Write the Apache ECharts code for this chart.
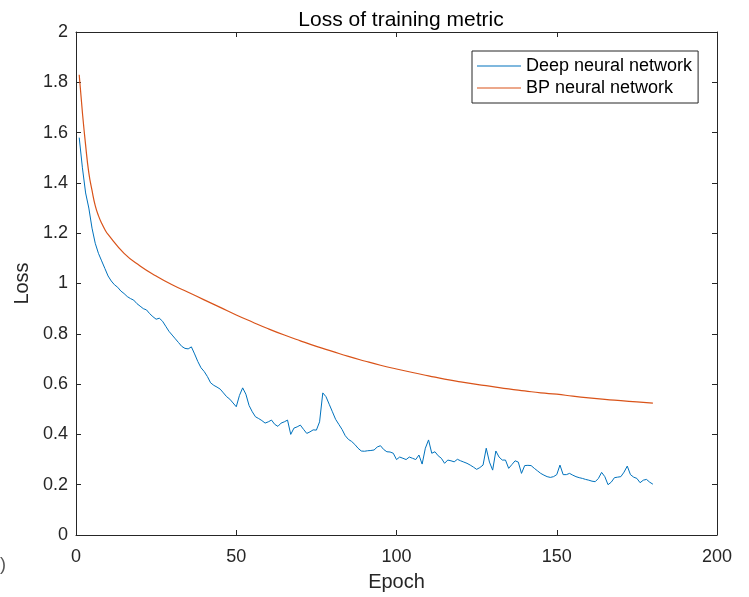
<!DOCTYPE html>
<html>
<head>
<meta charset="utf-8">
<script src="https://cdn.jsdelivr.net/npm/echarts@6/dist/echarts.min.js"></script>
<style>
  html, body { margin: 0; padding: 0; background: #fff; }
  #chart { width: 749px; height: 597px; }
</style>
</head>
<body>
<div id="chart"></div>
<script>
// values
const xTicks = [0, 50, 100, 150, 200];
const yTicks = [0, 0.2, 0.4, 0.6, 0.8, 1, 1.2, 1.4, 1.6, 1.8, 2];

// Deep neural network, one value per epoch (1..180)
const deepLoss = [
  1.58, 1.46, 1.36, 1.30, 1.22, 1.16, 1.12, 1.09, 1.06, 1.03,
  1.01, 0.995, 0.985, 0.97, 0.96, 0.948, 0.94, 0.934, 0.92, 0.91,
  0.90, 0.895, 0.88, 0.868, 0.858, 0.862, 0.85, 0.83, 0.81, 0.795,
  0.78, 0.765, 0.75, 0.742, 0.74, 0.748, 0.72, 0.69, 0.665, 0.65,
  0.63, 0.605, 0.595, 0.588, 0.58, 0.565, 0.55, 0.54, 0.525, 0.51,
  0.555, 0.585, 0.56, 0.515, 0.49, 0.47, 0.463, 0.455, 0.445, 0.45,
  0.457, 0.44, 0.432, 0.445, 0.45, 0.457, 0.40, 0.425, 0.43, 0.437,
  0.42, 0.404, 0.41, 0.418, 0.417, 0.45, 0.565, 0.55, 0.52, 0.49,
  0.46, 0.44, 0.42, 0.395, 0.38, 0.372, 0.36, 0.345, 0.334, 0.333,
  0.335, 0.336, 0.338, 0.35, 0.355, 0.34, 0.331, 0.33, 0.325, 0.30,
  0.31, 0.305, 0.30, 0.31, 0.305, 0.30, 0.318, 0.282, 0.345, 0.378,
  0.325, 0.331, 0.315, 0.305, 0.285, 0.298, 0.295, 0.291, 0.301, 0.295,
  0.29, 0.285, 0.278, 0.27, 0.261, 0.268, 0.278, 0.345, 0.29, 0.258,
  0.334, 0.31, 0.298, 0.298, 0.265, 0.28, 0.295, 0.29, 0.245, 0.276,
  0.277, 0.276, 0.265, 0.255, 0.245, 0.238, 0.232, 0.229, 0.232, 0.24,
  0.278, 0.24, 0.24, 0.245, 0.238, 0.232, 0.228, 0.225, 0.221, 0.218,
  0.214, 0.212, 0.225, 0.249, 0.232, 0.20, 0.21, 0.228, 0.23, 0.232,
  0.25, 0.274, 0.24, 0.23, 0.225, 0.208, 0.218, 0.221, 0.21, 0.202
];

// BP neural network, smooth curve read at these epochs
const bpEpochs = [1, 2, 3, 4, 5, 6, 7, 8, 9, 10, 15, 20, 25, 30, 35, 40, 45, 50,
  55, 60, 65, 70, 75, 80, 85, 90, 95, 100, 105, 110, 115, 120, 125, 130,
  135, 140, 145, 150, 155, 160, 165, 170, 175, 180];
const bpLoss = [1.83, 1.68, 1.55, 1.44, 1.37, 1.31, 1.27, 1.24, 1.215, 1.195,
  1.12, 1.07, 1.03, 0.995, 0.965, 0.935, 0.905, 0.875, 0.847, 0.82, 0.795,
  0.772, 0.75, 0.73, 0.71, 0.692, 0.675, 0.66, 0.646, 0.633, 0.62, 0.609,
  0.599, 0.59, 0.581, 0.573, 0.565, 0.56, 0.552, 0.545, 0.539, 0.534,
  0.529, 0.524];

const font = "'Liberation Sans', Arial, sans-serif";
const ink = '#262626';

let deepData = deepLoss.map(function (v, i) { return [i + 1, v]; });
let bpData = bpEpochs.map(function (e, i) { return [e, bpLoss[i]]; });

function boxAxis(extra) {
  // common look: MATLAB style box with inward ticks
  return Object.assign({
    type: 'value',
    axisLine: { show: true, onZero: false, lineStyle: { color: ink, width: 1 } },
    axisTick: { show: true, inside: true, length: 5, lineStyle: { color: ink } },
    splitLine: { show: false },
    axisLabel: { show: false }
  }, extra);
}

let chart = echarts.init(document.getElementById('chart'), null, { renderer: 'canvas' });

chart.setOption({
  backgroundColor: '#fff',
  animation: false,
  title: {
    text: 'Loss of training metric',
    left: 396, top: 5, textAlign: 'center',
    textStyle: { fontFamily: font, fontSize: 21, fontWeight: 'normal', color: '#000' }
  },
  grid: { left: 76, right: 32, top: 32, bottom: 62 },
  legend: {
    orient: 'vertical',
    left: 472, top: 51,
    padding: [6, 6, 6, 5],
    itemGap: 4,
    itemWidth: 44, itemHeight: 1,
    icon: 'rect',
    borderColor: ink, borderWidth: 1,
    backgroundColor: '#fff',
    textStyle: { fontFamily: font, fontSize: 18, color: '#000' },
    data: ['Deep neural network', 'BP neural network']
  },
  xAxis: [
    boxAxis({
      min: xTicks[0], max: xTicks[xTicks.length - 1], interval: 50,
      name: 'Epoch', nameLocation: 'middle', nameGap: 37,
      nameTextStyle: { fontFamily: font, fontSize: 20, color: ink },
      axisLabel: { show: true, fontFamily: font, fontSize: 18, color: ink, margin: 13 }
    }),
    boxAxis({ position: 'top', min: 0, max: 200, interval: 50 })
  ],
  yAxis: [
    boxAxis({
      min: yTicks[0], max: yTicks[yTicks.length - 1], interval: 0.2,
      name: 'Loss', nameLocation: 'middle', nameGap: 43,
      nameTextStyle: { fontFamily: font, fontSize: 20, color: ink },
      axisLabel: { show: true, fontFamily: font, fontSize: 18, color: ink, margin: 8 }
    }),
    boxAxis({ position: 'right', min: 0, max: 2, interval: 0.2 })
  ],
  graphic: [{
    type: 'text', left: 0, top: 556,
    style: { text: ')', fontFamily: font, fontSize: 18, fill: '#555' }
  }],
  series: [
    {
      name: 'Deep neural network', type: 'line',
      data: deepData, symbol: 'none',
      lineStyle: { color: '#0072BD', width: 1 },
      itemStyle: { color: '#0072BD' }
    },
    {
      name: 'BP neural network', type: 'line',
      data: bpData, symbol: 'none', smooth: true,
      lineStyle: { color: '#D95319', width: 1.2 },
      itemStyle: { color: '#D95319' }
    }
  ]
});
</script>
</body>
</html>
